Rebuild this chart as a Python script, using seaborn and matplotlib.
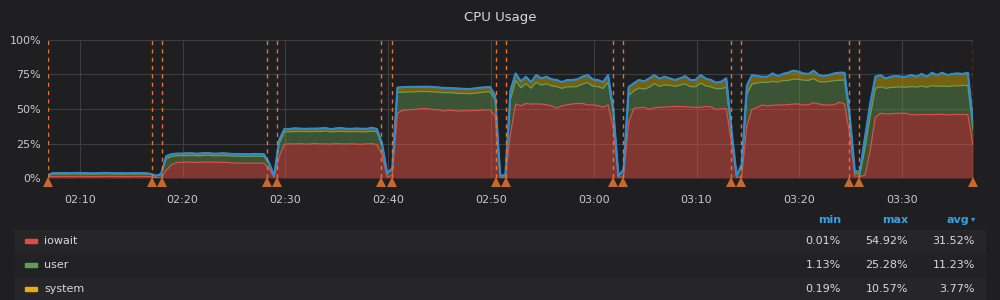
import matplotlib
matplotlib.use("Agg")
import numpy as np
import pandas as pd
import matplotlib.pyplot as plt
import matplotlib.dates as mdates
from matplotlib.patches import Rectangle
import seaborn as sns

# ---------------- data ----------------
start_time = "2024-01-01 02:06:54"
n_points = 181
times = pd.date_range(start_time, periods=n_points, freq="30s")

iowait = [
    0.8, 1.1, 1.1, 1.2, 1.1, 1.1, 1.2, 1.1, 1.1, 1.0, 1.1, 1.1, 1.2, 1.1, 1.1, 1.0, 1.1, 1.2, 1.1, 1.1, 1.0,
    0.2, 0.3, 5.5, 9.5,
    11.2, 11.4, 11.5, 11.4, 11.3, 11.5, 11.6, 11.4, 11.3, 11.5, 11.2, 10.9, 10.7, 10.8, 10.6, 10.8, 10.7, 10.9,
    7.0, 0.5, 15.5,
    24.4, 24.8, 24.6, 24.9, 24.5, 24.7, 25.0, 24.6, 24.8, 24.5, 24.9, 24.7, 24.6, 24.8, 24.5, 24.4, 24.7, 24.9, 24.2,
    17.0, 0.6, 2.0,
    47.0, 49.0, 49.3, 49.6, 50.0, 50.3, 50.1, 49.6, 49.3, 48.5, 49.0, 48.8, 48.4, 48.9, 48.6, 48.8, 49.0, 49.2, 49.4,
    45.0, 0.4, 0.5, 32.0,
    53.6, 52.2, 54.0, 53.6, 53.6, 53.6, 53.0, 52.2, 50.7, 52.2, 53.0, 53.6, 54.0, 54.0, 53.0, 53.0, 52.5, 51.2, 53.0,
    36.0, 0.3, 1.0, 40.0,
    50.5, 51.0, 51.2, 49.7, 51.0, 51.2, 51.4, 51.6, 51.8, 51.8, 51.6, 51.4, 51.2, 51.2, 51.8, 51.6, 49.7, 50.2, 50.2,
    25.0, 0.3, 1.0, 38.0,
    49.7, 51.2, 52.9, 52.2, 52.7, 52.9, 52.9, 53.1, 53.6, 53.6, 52.9, 53.1, 54.6, 53.6, 52.9, 52.9, 53.1, 54.9, 53.6,
    32.0, 1.5, 1.2, 2.0, 20.0, 44.0,
    46.9, 46.4, 46.4, 46.9, 46.9, 46.9, 45.7, 45.9, 45.9, 45.9, 45.9, 46.1, 46.1, 45.7, 45.9, 46.1, 45.9, 45.9,
    24.0,
]
user = [
    1.0, 1.8, 1.8, 1.7, 1.8, 1.9, 1.8, 1.8, 1.7, 1.8, 1.8, 1.9, 1.8, 1.8, 1.7, 1.8, 1.8, 1.7, 1.8, 1.8, 1.5,
    1.2, 2.0, 8.5, 6.0,
    4.9, 4.8, 4.7, 4.9, 4.8, 4.7, 4.9, 4.8, 4.8, 4.7, 4.9, 5.0, 5.1, 4.9, 5.1, 5.0, 5.0, 4.8,
    3.2, 1.13, 9.5,
    9.0, 8.7, 9.1, 8.8, 9.2, 8.9, 8.8, 9.0, 9.3, 8.9, 8.8, 9.1, 9.0, 8.8, 9.2, 9.0, 8.9, 9.1, 9.2,
    6.5, 2.5, 4.0,
    15.0, 13.2, 13.0, 12.8, 12.6, 12.4, 12.5, 12.8, 12.9, 13.3, 12.9, 12.8, 12.9, 12.4, 12.5, 12.6, 12.8, 13.1, 13.0,
    12.0, 1.2, 1.3, 25.0,
    17.0, 13.2, 14.4, 11.5, 15.7, 13.7, 15.3, 14.6, 15.5, 12.8, 13.1, 12.4, 12.4, 14.1, 16.2, 13.6, 13.7, 13.7, 16.3,
    11.0, 1.2, 4.0, 20.0,
    12.6, 14.2, 13.2, 16.0, 17.4, 15.3, 16.0, 15.6, 14.6, 15.6, 16.6, 14.8, 14.9, 17.6, 14.9, 14.4, 15.0, 14.6, 15.5,
    8.0, 1.2, 7.0, 23.0,
    18.4, 17.7, 16.5, 17.0, 17.3, 16.6, 17.7, 17.6, 18.0, 17.9, 18.0, 17.7, 17.4, 16.2, 16.7, 17.1, 17.5, 15.9, 17.4,
    11.0, 2.0, 1.8, 20.0, 25.0, 21.0,
    19.2, 18.6, 19.2, 19.0, 19.1, 18.9, 20.5, 20.0, 20.7, 19.9, 21.1, 20.3, 20.6, 20.6, 20.9, 20.7, 21.1, 21.2,
    11.0,
]
system = [
    0.4, 0.7, 0.6, 0.7, 0.7, 0.6, 0.7, 0.7, 0.7, 0.6, 0.7, 0.7, 0.6, 0.7, 0.7, 0.7, 0.6, 0.7, 0.7, 0.6, 0.5,
    0.3, 0.5, 1.8, 1.8,
    1.6, 1.5, 1.7, 1.6, 1.5, 1.7, 1.6, 1.5, 1.6, 1.7, 1.6, 1.5, 1.6, 1.6, 1.5, 1.6, 1.7, 1.6,
    0.8, 0.2, 2.5,
    2.2, 2.0, 2.3, 2.1, 1.9, 2.2, 2.0, 2.3, 2.1, 2.0, 2.2, 2.4, 2.1, 2.0, 2.2, 2.3, 2.0, 2.4, 2.1,
    1.5, 0.5, 1.0,
    3.5, 3.6, 3.7, 3.6, 3.5, 3.4, 3.6, 3.5, 3.4, 3.5, 3.3, 3.4, 3.5, 3.3, 3.4, 3.5, 3.6, 3.4, 3.6,
    3.0, 0.2, 0.2, 6.5,
    5.2, 4.6, 5.0, 4.4, 5.3, 4.9, 5.1, 4.7, 4.8, 4.5, 4.9, 5.0, 5.1, 5.3, 5.4, 4.9, 4.8, 4.6, 5.3,
    3.0, 0.19, 1.0, 6.0,
    5.5, 5.8, 5.6, 6.5, 6.2, 5.5, 6.0, 5.0, 4.6, 4.8, 5.6, 4.8, 4.9, 5.8, 5.3, 5.0, 4.4, 5.0, 6.5,
    2.0, 0.2, 2.0, 6.0,
    6.5, 5.0, 4.0, 4.2, 5.8, 4.4, 4.8, 5.6, 6.2, 5.6, 4.9, 4.6, 5.8, 4.8, 4.3, 4.6, 5.2, 5.5, 5.3,
    3.0, 1.5, 1.6, 8.0, 9.0, 8.4,
    8.5, 7.2, 7.8, 8.0, 7.4, 7.6, 8.4, 7.5, 8.8, 7.6, 9.3, 8.2, 9.6, 8.3, 8.6, 9.0, 8.4, 9.2,
    6.0,
]

annotation_times = [
    "02:06:54", "02:17:00", "02:18:00", "02:28:10", "02:29:10", "02:39:20", "02:40:20",
    "02:50:30", "02:51:30", "03:01:50", "03:02:50", "03:13:20", "03:14:20", "03:24:50",
    "03:25:50", "03:36:54",
]

series_names = ["iowait", "user", "system"]
series_colors = ["#E24D42", "#629E51", "#E5AC0E"]
stat_headers = ["min", "max", "avg"]
stat_min = ["0.01%", "1.13%", "0.19%"]
stat_max = ["54.92%", "25.28%", "10.57%"]
stat_avg = ["31.52%", "11.23%", "3.77%"]

assert len(iowait) == len(user) == len(system) == n_points

# ---------------- style ----------------
BG = "#1f1f21"
TEXT = "#c8c9ca"
GRID = "#3f3f42"
sns.set_theme(style="dark", rc={
    "figure.facecolor": BG, "axes.facecolor": BG, "savefig.facecolor": BG,
    "axes.edgecolor": BG, "text.color": TEXT, "xtick.color": TEXT, "ytick.color": TEXT,
})
plt.rcParams["font.family"] = ["DejaVu Sans"]

df = pd.DataFrame({"time": times, "iowait": iowait, "user": user, "system": system})
df["c1"] = df["iowait"]
df["c2"] = df["c1"] + df["user"]
df["c3"] = df["c2"] + df["system"]

fig = plt.figure(figsize=(10, 3), dpi=100)
ax = fig.add_axes([0.048, 1 - 178 / 300, 0.925, 138 / 300])

fill_colors = ["#E24D42", "#5A8A4C", "#CCA300"]
ax.stackplot(df["time"], df["iowait"], df["user"], df["system"],
             colors=fill_colors, alpha=0.5, linewidth=0)
sns.lineplot(data=df, x="time", y="c1", ax=ax, color="#D9514A", lw=0.9)
sns.lineplot(data=df, x="time", y="c2", ax=ax, color="#6A9E55", lw=0.9)
sns.lineplot(data=df, x="time", y="c3", ax=ax, color="#CCA300", lw=0.9)
sns.lineplot(data=df, x="time", y="c3", ax=ax, color="#2B8BD9", lw=1.5)

ax.set_xlim(times[0], times[-1])
ax.set_ylim(0, 100)
ax.set_yticks([0, 25, 50, 75, 100])
ax.set_yticklabels(["0%", "25%", "50%", "75%", "100%"])
ax.xaxis.set_major_locator(mdates.MinuteLocator(byminute=[0, 10, 20, 30, 40, 50]))
ax.xaxis.set_major_formatter(mdates.DateFormatter("%H:%M"))
ax.tick_params(axis="both", length=0, labelsize=8, colors=TEXT)
ax.tick_params(axis="x", pad=12)
ax.tick_params(axis="y", pad=5)
ax.set_xlabel("")
ax.set_ylabel("")
ax.grid(True, color=GRID, lw=0.8)
for s in ax.spines.values():
    s.set_visible(False)

# annotations
trans = ax.get_xaxis_transform()
for t in annotation_times:
    tt = pd.Timestamp("2024-01-01 " + t)
    ax.axvline(tt, color="#E8742A", lw=1, ls=(0, (3, 3)), zorder=5)
    ax.plot([tt], [-0.03], marker="^", ms=6.5, color="#C8692C", transform=trans,
            clip_on=False, zorder=6, markeredgewidth=0)

fig.text(0.5, 1 - 18 / 300, "CPU Usage", ha="center", va="center", fontsize=9.5, color="#d8d9da")

# legend table
stat_x = [841 / 1000, 908 / 1000, 969 / 1000]
for x, h in zip(stat_x, stat_headers):
    fig.text(x, 1 - 220 / 300, h, ha="right", va="center", fontsize=8, color="#33A2E5",
             fontweight="bold")
fig.text(975 / 1000, 1 - 219 / 300, "▾", ha="right", va="center", fontsize=6, color="#33A2E5")

row_y = [241, 265, 289]
row_bg = ["#262628", "#222224", "#262628"]
for i, name in enumerate(series_names):
    y0 = row_y[i]
    fig.patches.append(Rectangle((15 / 1000, 1 - (y0 + 12) / 300), 970 / 1000, 23.5 / 300,
                                 transform=fig.transFigure, color=row_bg[i], zorder=0))
    fig.patches.append(Rectangle((25 / 1000, 1 - (y0 + 2) / 300), 12 / 1000, 4 / 300,
                                 transform=fig.transFigure, color=series_colors[i], zorder=1))
    fig.text(44 / 1000, 1 - y0 / 300, name, ha="left", va="center", fontsize=8, color="#d8d9da")
    for x, v in zip([841 / 1000, 908 / 1000, 975 / 1000], [stat_min[i], stat_max[i], stat_avg[i]]):
        fig.text(x, 1 - y0 / 300, v, ha="right", va="center", fontsize=8, color="#d8d9da")

fig.savefig("out.png", dpi=100)
